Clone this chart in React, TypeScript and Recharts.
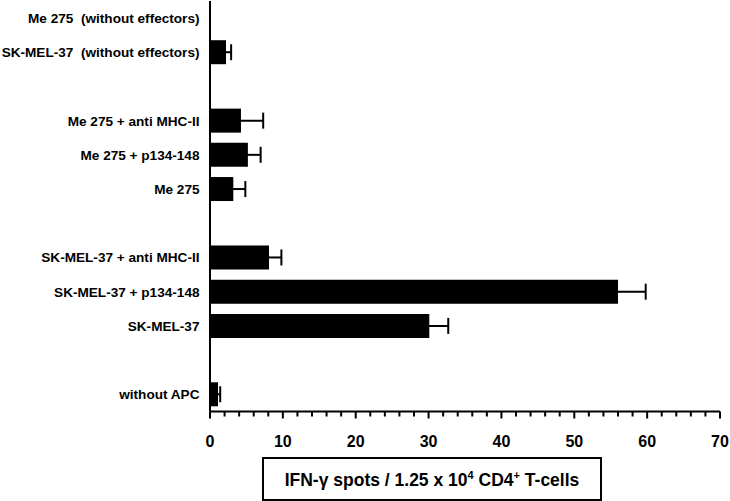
import React from "react";
import { BarChart, Bar, XAxis, YAxis, ErrorBar } from "recharts";

const categories: string[] = [
  "Me 275  (without effectors)",
  "SK-MEL-37  (without effectors)",
  "",
  "Me 275 + anti MHC-II",
  "Me 275 + p134-148",
  "Me 275",
  "",
  "SK-MEL-37 + anti MHC-II",
  "SK-MEL-37 + p134-148",
  "SK-MEL-37",
  "",
  "without APC",
];
const spots: (number | null)[] = [0, 2.2, null, 4.25, 5.2, 3.2, null, 8.1, 56.0, 30.1, null, 1.1];
const sem: (number | null)[] = [null, 0.7, null, 3.05, 1.75, 1.65, null, 1.7, 3.8, 2.6, null, 0.3];
const xTicks: number[] = Array.from({ length: 36 }, (_, i) => i * 2);

const data = categories.map((c, i) => ({
  id: `row${i}`,
  label: c,
  value: spots[i],
  err: sem[i],
}));

const FONT = "'Liberation Sans', Arial, sans-serif";

const YTick = (props: any) => {
  const { x, y, payload } = props;
  const idx = data.findIndex((d) => d.id === payload.value);
  const text = idx >= 0 ? data[idx].label : "";
  return (
    <text
      x={x}
      y={y}
      dy={4.8}
      textAnchor="end"
      fill="#000"
      fontFamily={FONT}
      fontWeight="bold"
      fontSize={13.6}
      style={{ whiteSpace: "pre" }}
    >
      {text}
    </text>
  );
};

const XTick = (props: any) => {
  const { x, y, payload } = props;
  const v = payload.value as number;
  const major = v % 10 === 0;
  return (
    <g>
      <line x1={x} x2={x} y1={y} y2={y + (major ? 7 : 5)} stroke="#000" strokeWidth={2} />
      {major && (
        <text
          x={x}
          y={y + 35}
          textAnchor="middle"
          fill="#000"
          fontFamily={FONT}
          fontWeight="bold"
          fontSize={16}
        >
          {v}
        </text>
      )}
    </g>
  );
};

const AxisTitle = (props: any) => {
  const vb = props.viewBox || { x: 210, y: 411.5 };
  const bx = vb.x + 53;
  const by = vb.y + 46.5;
  const w = 338;
  const h = 42;
  return (
    <g>
      <rect x={bx} y={by} width={w} height={h} fill="#fff" stroke="#000" strokeWidth={2} />
      <text
        x={bx + w / 2}
        y={by + 28}
        textAnchor="middle"
        fill="#000"
        fontFamily={FONT}
        fontWeight="bold"
        fontSize={17.5}
      >
        <tspan>IFN-γ spots / 1.25 x 10</tspan>
        <tspan fontSize={11} dy={-7}>4</tspan>
        <tspan dy={7}> CD4</tspan>
        <tspan fontSize={11} dy={-7}>+</tspan>
        <tspan dy={7}> T-cells</tspan>
      </text>
    </g>
  );
};

export default function App() {
  return (
    <div style={{ position: "absolute", left: 0, top: 0, background: "#fff" }}>
      <BarChart
        width={730}
        height={501}
        data={data}
        layout="vertical"
        margin={{ top: 1, right: 10, bottom: 0, left: 0 }}
        barSize={24}
      >
        <XAxis
          type="number"
          domain={[0, 70]}
          ticks={xTicks}
          interval={0}
          height={89.5}
          axisLine={{ stroke: "#000", strokeWidth: 2 }}
          tickLine={false}
          tickSize={0}
          tickMargin={0}
          tick={<XTick />}
          label={<AxisTitle />}
        />
        <YAxis
          type="category"
          dataKey="id"
          width={210}
          axisLine={{ stroke: "#000", strokeWidth: 2 }}
          tickLine={false}
          tickSize={0}
          tickMargin={10.5}
          interval={0}
          tick={<YTick />}
        />
        <Bar dataKey="value" fill="#000" isAnimationActive={false}>
          <ErrorBar dataKey="err" direction="x" width={8} stroke="#000" strokeWidth={2} />
        </Bar>
      </BarChart>
    </div>
  );
}
